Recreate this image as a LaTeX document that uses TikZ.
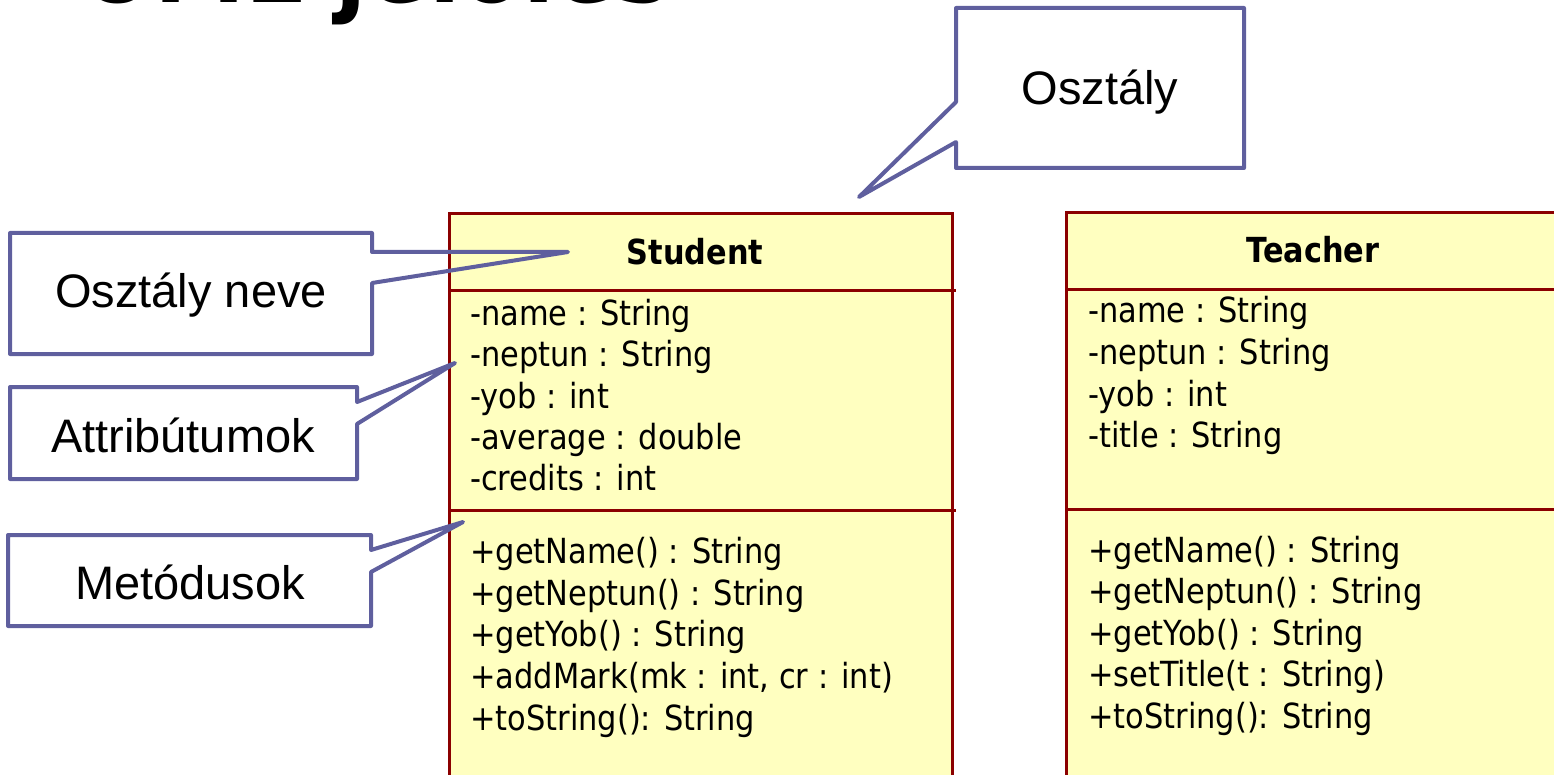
\documentclass[tikz,border=0pt]{standalone}
\usepackage{fontspec}
\setmainfont{Liberation Sans}
\newfontfamily\umlfont[FakeStretch=0.88]{DejaVu Sans}
\definecolor{callc}{HTML}{5F5F9E}
\definecolor{umlborder}{HTML}{8B0000}
\definecolor{umlfill}{HTML}{FFFFC0}
\tikzset{
  callout/.style={draw=callc, line width=4pt, line join=round},
  umlbox/.style={draw=umlborder, fill=umlfill, line width=3pt},
  umlline/.style={draw=umlborder, line width=3pt},
  umltext/.style={anchor=base west, inner sep=0pt, font=\umlfont\fontsize{34.6}{40}\selectfont},
  umltitle/.style={anchor=base, inner sep=0pt, font=\umlfont\bfseries\fontsize{34.5}{40}\selectfont},
  calltext/.style={inner sep=0pt, font=\fontsize{47}{56}\selectfont},
}
\begin{document}
\begin{tikzpicture}[x=1pt,y=-1pt]
\useasboundingbox (0,0) rectangle (1554,775);
\clip (0,0) rectangle (1554,775);
% title (cut off at the top)
\node[anchor=base west, inner sep=0pt, font=\umlfont\bfseries\fontsize{104}{110}\selectfont] (title) at (80,2.5) {UML jelölés};
% Student class
\path[umlbox] (449,214) rectangle (952,800);
\draw[umlline] (449,291) -- (956,291);
\draw[umlline] (449,510) -- (956,510);
\node[umltitle] (sname) at (695,265) {Student};
\node[umltext] (s1) at (470,325) {-name : String};
\node[umltext] (s2) at (470,366.5) {-neptun : String};
\node[umltext] (s3) at (470,408) {-yob : int};
\node[umltext] (s4) at (470,449) {-average : double};
\node[umltext] (s5) at (470,490) {-credits : int};
\node[umltext] (m1) at (470,563) {+getName() : String};
\node[umltext] (m2) at (470,605) {+getNeptun() : String};
\node[umltext] (m3) at (470,646) {+getYob() : String};
\node[umltext] (m4) at (470,688) {+addMark(mk : int, cr : int)};
\node[umltext] (m5) at (470,730) {+toString(): String};
% Teacher class
\path[umlbox] (1066,213) rectangle (1600,800);
\draw[umlline] (1066,290) -- (1600,290);
\draw[umlline] (1066,509) -- (1600,509);
\node[umltitle] (tname) at (1313,263) {Teacher};
\node[umltext] (t1) at (1088,323) {-name : String};
\node[umltext] (t2) at (1088,364.5) {-neptun : String};
\node[umltext] (t3) at (1088,406) {-yob : int};
\node[umltext] (t4) at (1088,447) {-title : String};
\node[umltext] (n1) at (1088,562) {+getName() : String};
\node[umltext] (n2) at (1088,603.5) {+getNeptun() : String};
\node[umltext] (n3) at (1088,645) {+getYob() : String};
\node[umltext] (n4) at (1088,686.5) {+setTitle(t : String)};
\node[umltext] (n5) at (1088,728) {+toString(): String};
% callouts
\draw[callout] (956,8) -- (1244,8) -- (1244,168) -- (956,168) -- (956,142) -- (859,197) -- (956,102) -- cycle;
\node[calltext] (c1) at (1100,92) {Osztály};
\draw[callout] (10,233) -- (372,233) -- (372,252) -- (568,252) -- (372,283) -- (372,354) -- (10,354) -- cycle;
\node[calltext] (c2) at (191,295) {Osztály neve};
\draw[callout] (10,387) -- (357,387) -- (357,402) -- (455,363) -- (357,424) -- (357,479) -- (10,479) -- cycle;
\node[calltext] (c3) at (183,435) {Attribútumok};
\draw[callout] (8,535) -- (371,535) -- (371,550) -- (463,522) -- (371,572) -- (371,626) -- (8,626) -- cycle;
\node[calltext] (c4) at (190,582) {Metódusok};
\end{tikzpicture}
\end{document}
